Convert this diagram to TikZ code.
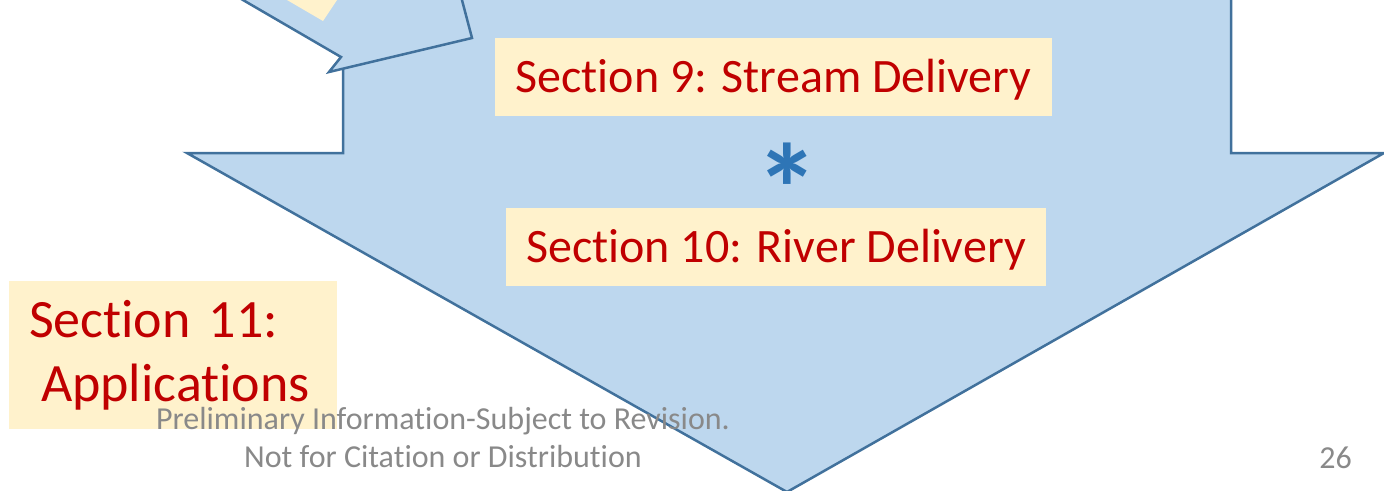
\documentclass[tikz,border=0pt]{standalone}
\usepackage{fontspec}
\setmainfont{Carlito}[Ligatures={NoCommon,NoContextual},Contextuals=NoAlternate,RawFeature={-liga;-clig;-calt}]
\definecolor{arrowfill}{RGB}{189,215,238}
\definecolor{arrowline}{RGB}{65,113,156}
\definecolor{boxfill}{RGB}{255,242,204}
\definecolor{sectred}{RGB}{192,0,0}
\definecolor{starblue}{RGB}{46,117,182}
\definecolor{footgray}{RGB}{137,137,137}
\tikzset{secbox/.style={fill=boxfill,text=sectred,inner sep=0pt},
  sectext/.style={font=\fontsize{48}{58}\selectfont,text height=31pt,text depth=0pt}}

\begin{document}
\begin{tikzpicture}[x=1pt,y=-1pt]
\useasboundingbox (0,0) rectangle (1384,490);
\clip (0,0) rectangle (1384,490);
\draw [line width=2.5pt,arrowline,fill=arrowfill] (343,-20)--(343,153)--(187,153)--(787,492)--(1384,153)--(1231,153)--(1231,-20)--cycle;
\draw [line width=2.5pt,arrowline,fill=arrowfill] (208.6,-20)--(341,57)--(329,72)--(472,38)--(456.7,-20)--cycle;
\fill [boxfill] (323,21)--(251,-21)--(351,-21)--cycle;
\node [secbox,sectext,minimum width=557pt,minimum height=78pt] (sec9) at (773.5,77) {Section 9: Stream Delivery};
\node [text=starblue,inner sep=0pt,text height=36pt,text depth=0pt,font=\fontsize{128}{128}\selectfont\bfseries] (star) at (787,166) {\raisebox{-50pt}{*}};
\node [secbox,sectext,minimum width=540pt,minimum height=78pt] (sec10) at (776,247) {Section 10: River Delivery};
\node [secbox,font=\fontsize{54}{64}\selectfont,align=left,text width=288pt,inner xsep=20pt,inner ysep=0pt,minimum height=148pt] (sec11) at (173,355) {Section 11:\\\hspace*{12pt}Applications};
\node [text=footgray,inner sep=0pt,anchor=north,align=center,font=\fontsize{32}{38}\selectfont] (foot) at (443,407) {Preliminary Information-Subject to Revision.\\Not for Citation or Distribution};
\node [text=footgray,inner sep=0pt,anchor=base east,font=\fontsize{32}{38}\selectfont] (pagenum) at (1352,468) {26};
\end{tikzpicture}
\end{document}
